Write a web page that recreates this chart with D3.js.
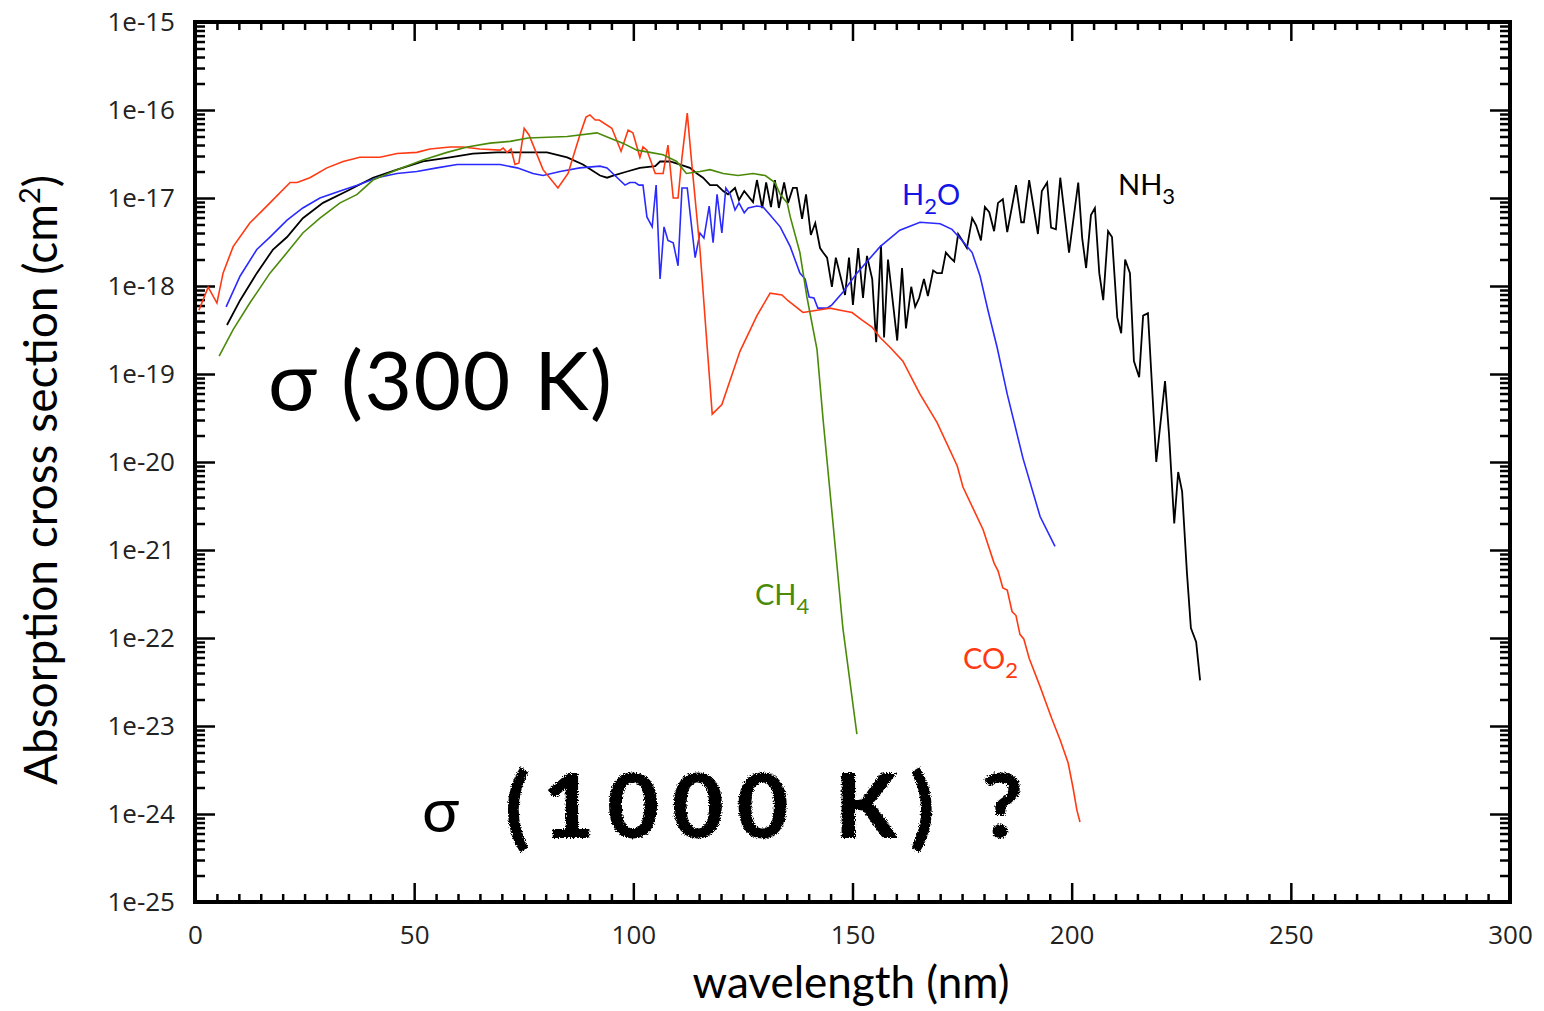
<!DOCTYPE html>
<html>
<head>
<meta charset="utf-8">
<script src="https://cdn.jsdelivr.net/npm/d3@7"></script>
<style>
  body { margin: 0; background: #fff; }
  svg text { font-family: Lato, "Open Sans", sans-serif; }
  .tick text { font-family: "Open Sans", sans-serif; font-size: 26px; fill: #222; }
</style>
</head>
<body>
<svg id="chart" width="1544" height="1011"></svg>
<script>
// wavelength (nm) and cross section (cm^2)
const nh3Wl = [7.3,10.3,14.1,17.8,21.0,24.6,29.2,34.7,40.6,46.1,52.0,58.2,63.4,68.9,75.0,80.3,84.9,88.5,92.4,94.0,95.4,98.6,101.5,105.0,106.1,108.4,110.7,112.9,114.5,115.9,117.5,119.1,120.5,121.6,123.2,124.1,125.3,127.3,128.2,129.4,130.3,131.4,132.3,133.2,134.4,135.3,136.4,137.3,138.5,139.4,140.5,141.5,142.6,143.3,144.2,145.3,146.2,148.3,149.2,150.1,151.3,152.4,153.3,154.5,155.4,156.5,157.2,158.1,160.2,161.3,162.2,163.4,164.3,165.2,166.3,167.2,168.4,169.3,170.4,171.3,172.3,173.2,174.1,175.2,176.1,177.3,178.2,179.3,180.2,181.2,182.3,183.2,184.3,185.3,187.3,188.5,189.1,190.3,192.3,193.2,194.4,195.3,196.4,197.4,199.4,201.5,202.4,203.3,204.4,205.3,206.3,207.2,208.3,209.2,210.4,211.3,212.2,213.3,214.2,215.4,216.3,217.4,219.3,221.3,222.2,223.4,224.3,225.2,226.3,227.2,228.4,229.3];
const nh3Sigma = [3.6e-19,6.9e-19,1.4e-18,2.6e-18,3.6e-18,5.9e-18,8.8e-18,1.2e-17,1.7e-17,2.1e-17,2.6e-17,2.9e-17,3.2e-17,3.3e-17,3.3e-17,3.3e-17,2.9e-17,2.4e-17,1.8e-17,1.7e-17,1.8e-17,2.0e-17,2.2e-17,2.3e-17,2.6e-17,2.6e-17,2.4e-17,2.2e-17,1.9e-17,1.7e-17,1.4e-17,1.4e-17,1.2e-17,1.1e-17,1.3e-17,9.5e-18,1.2e-17,9.0e-18,1.6e-17,7.7e-18,1.5e-17,7.9e-18,1.6e-17,7.7e-18,1.5e-17,8.8e-18,1.3e-17,1.3e-17,5.8e-18,1.1e-17,3.8e-18,5.2e-18,2.7e-18,2.4e-18,2.1e-18,9.8e-19,2.1e-18,7.9e-19,2.1e-18,6.1e-19,2.7e-18,7.3e-19,2.2e-18,1.2e-18,2.3e-19,2.9e-18,2.6e-19,2.0e-18,2.4e-19,1.6e-18,3.3e-19,9.8e-19,5.8e-19,7.3e-19,1.2e-18,7.7e-19,1.5e-18,1.4e-18,1.4e-18,2.4e-18,2.1e-18,1.9e-18,3.9e-18,3.2e-18,2.7e-18,5.9e-18,4.9e-18,3.3e-18,7.9e-18,6.9e-18,4.2e-18,8.8e-18,9.7e-18,4.1e-18,1.4e-17,5.3e-18,5.3e-18,1.6e-17,3.9e-18,1.2e-17,1.5e-17,4.6e-18,4.4e-18,1.7e-17,2.4e-18,1.5e-17,3.5e-18,1.6e-18,6.4e-18,7.7e-18,1.4e-18,6.9e-19,4.2e-18,3.6e-18,4.4e-19,2.9e-19,2.0e-18,1.4e-18,1.4e-19,9.2e-20,4.6e-19,4.9e-19,1.0e-20,8.3e-20,2.1e-20,2.0e-21,7.7e-21,4.6e-21,5.5e-22,1.3e-22,9.0e-23,3.3e-23];

const h2oWl = [7.1,10.3,14.1,17.1,21.0,24.6,28.5,33.1,37.0,41.5,46.1,50.6,55.2,59.8,65.0,69.6,73.5,77.1,79.4,83.3,87.8,92.4,94.0,95.8,98.1,99.2,100.4,101.3,102.2,103.1,104.3,105.2,106.1,107.0,107.9,109.1,110.2,111.1,112.3,114.1,115.2,116.1,117.3,118.2,119.1,120.2,121.1,122.1,123.2,124.1,125.3,126.2,128.2,129.6,131.2,133.5,135.8,138.0,139.2,140.1,141.2,142.1,144.2,145.3,147.8,151.0,156.3,160.8,165.4,170.0,172.7,175.2,177.3,179.1,180.9,183.0,185.3,188.9,192.8,196.2];
const h2oSigma = [5.8e-19,1.3e-18,2.6e-18,3.6e-18,5.6e-18,7.7e-18,1.0e-17,1.2e-17,1.4e-17,1.7e-17,1.9e-17,2.0e-17,2.2e-17,2.4e-17,2.4e-17,2.4e-17,2.2e-17,1.9e-17,1.8e-17,2.0e-17,2.2e-17,2.3e-17,2.2e-17,1.8e-17,1.4e-17,1.5e-17,1.5e-17,1.4e-17,1.4e-17,6.1e-18,4.7e-18,1.4e-17,1.2e-18,4.7e-18,3.3e-18,3.1e-18,1.7e-18,1.3e-17,1.3e-17,2.1e-18,4.0e-18,3.5e-18,8.1e-18,3.1e-18,1.1e-17,4.0e-18,1.3e-17,1.1e-17,7.3e-18,8.8e-18,6.8e-18,7.7e-18,8.1e-18,7.9e-18,6.4e-18,4.7e-18,2.8e-18,1.4e-18,1.2e-18,7.5e-19,7.3e-19,5.6e-19,5.6e-19,6.1e-19,8.5e-19,1.4e-18,2.8e-18,4.3e-18,5.3e-18,5.1e-18,4.4e-18,3.2e-18,2.4e-18,1.3e-18,5.3e-19,2.0e-19,5.9e-20,1.1e-20,2.4e-21,1.1e-21];

const co2Wl = [0.9,3.0,5.0,6.4,8.7,12.5,17.1,21.7,23.3,26.2,30.1,33.8,37.6,42.2,46.1,50.6,53.6,58.2,61.1,65.0,69.6,70.3,71.2,72.1,73.0,73.9,75.1,76.2,79.4,82.8,85.1,87.8,89.2,90.1,91.3,92.2,95.1,97.2,98.8,99.9,101.5,102.2,103.1,105.0,106.8,107.9,109.1,110.2,111.1,112.3,113.2,115.2,115.7,117.0,118.0,120.2,124.3,128.2,131.2,133.9,135.3,138.7,141.9,144.9,147.2,149.9,152.2,154.5,156.3,158.6,161.5,165.4,169.3,173.9,175.2,179.8,182.3,183.2,184.3,185.3,186.4,187.3,188.2,189.1,190.3,192.8,194.2,195.5,197.4,199.2,200.3,201.2,201.9];
const co2Sigma = [5.3e-19,9.7e-19,6.4e-19,1.4e-18,2.8e-18,5.2e-18,8.8e-18,1.5e-17,1.5e-17,1.7e-17,2.2e-17,2.6e-17,2.9e-17,2.9e-17,3.2e-17,3.3e-17,3.6e-17,3.8e-17,3.8e-17,3.6e-17,3.5e-17,3.7e-17,3.3e-17,3.6e-17,2.4e-17,2.5e-17,6.2e-17,5.2e-17,2.1e-17,1.3e-17,1.9e-17,5.2e-17,8.3e-17,8.8e-17,7.7e-17,7.7e-17,6.2e-17,3.4e-17,5.9e-17,5.5e-17,2.9e-17,3.8e-17,3.5e-17,1.9e-17,1.9e-17,4.0e-17,1.0e-17,1.0e-17,2.9e-17,9.2e-17,2.9e-17,2.6e-18,1.2e-18,1.6e-19,3.5e-20,4.5e-20,1.8e-19,4.6e-19,8.3e-19,7.9e-19,6.8e-19,5.0e-19,5.3e-19,5.6e-19,5.3e-19,5.0e-19,4.1e-19,3.4e-19,2.6e-19,2.0e-19,1.4e-19,5.9e-20,2.8e-20,9.0e-21,5.2e-21,1.7e-21,7.1e-22,5.8e-22,3.7e-22,3.5e-22,2.0e-22,1.8e-22,1.1e-22,9.7e-23,5.9e-23,2.8e-23,1.8e-23,1.2e-23,6.9e-24,3.8e-24,2.0e-24,1.1e-24,8.1e-25];

const ch4Wl = [5.5,8.7,12.5,17.1,21.0,24.6,28.5,33.1,37.0,40.6,46.1,52.0,57.5,62.1,67.3,71.9,76.0,84.9,91.7,94.6,97.6,100.8,103.8,106.8,109.9,112.1,115.2,117.5,120.5,123.9,127.3,130.1,132.3,133.5,135.1,135.8,138.0,139.6,141.9,143.3,145.6,147.8,151.0];
const ch4Sigma = [1.6e-19,3.2e-19,6.4e-19,1.4e-18,2.4e-18,4.0e-18,5.9e-18,8.8e-18,1.1e-17,1.6e-17,2.1e-17,2.7e-17,3.3e-17,3.8e-17,4.2e-17,4.4e-17,4.8e-17,5.0e-17,5.5e-17,4.8e-17,4.2e-17,3.5e-17,3.3e-17,3.1e-17,2.6e-17,1.9e-17,2.0e-17,2.1e-17,1.9e-17,1.8e-17,1.9e-17,1.8e-17,1.5e-17,1.1e-17,8.8e-18,6.1e-18,2.4e-18,7.5e-19,1.9e-19,3.0e-20,1.9e-21,1.3e-22,8.1e-24];

const xTickValues = [0, 50, 100, 150, 200, 250, 300];
const yExponents = [-25, -24, -23, -22, -21, -20, -19, -18, -17, -16, -15];

const margin = {left: 195, top: 22, right: 34, bottom: 109};
const W = 1544 - margin.left - margin.right;
const H = 1011 - margin.top - margin.bottom;

const svg = d3.select('#chart');

// rough chalk look for the hand written part
const defs = svg.append('defs');
const chalk = defs.append('filter').attr('id', 'chalk').attr('x', '-5%').attr('y', '-10%').attr('width', '110%').attr('height', '120%');
chalk.append('feTurbulence').attr('type', 'fractalNoise').attr('baseFrequency', 0.9).attr('numOctaves', 2).attr('seed', 3).attr('result', 'noise');
chalk.append('feDisplacementMap').attr('in', 'SourceGraphic').attr('in2', 'noise').attr('scale', 5)
  .attr('xChannelSelector', 'R').attr('yChannelSelector', 'G');

const g = svg.append('g').attr('transform', `translate(${margin.left},${margin.top})`);

const x = d3.scaleLinear().domain([0, 300]).range([0, W]);
const y = d3.scaleLog().domain([1e-25, 1e-15]).range([H, 0]);

const decades = yExponents.map(e => Math.pow(10, e));
let yMinor = [];
yExponents.slice(0, -1).forEach(e => {
  for (let k = 2; k <= 9; k++) yMinor.push(k * Math.pow(10, e));
});
const xMinor = d3.range(0, 301, 5).filter(v => v % 50 !== 0);

function styleAxis(sel) {
  sel.select('.domain').remove();
  sel.selectAll('.tick line').attr('stroke', '#000').attr('stroke-width', 2.5);
}

// left
g.append('g').call(d3.axisLeft(y).tickValues(yMinor).tickSize(-10).tickFormat('')).call(styleAxis);
g.append('g').call(d3.axisLeft(y).tickValues(decades).tickSize(-20).tickPadding(20)
  .tickFormat(d => '1e' + Math.round(Math.log10(d)))).call(styleAxis);
// right
g.append('g').attr('transform', `translate(${W},0)`)
  .call(d3.axisRight(y).tickValues(yMinor).tickSize(-10).tickFormat('')).call(styleAxis);
g.append('g').attr('transform', `translate(${W},0)`)
  .call(d3.axisRight(y).tickValues(decades).tickSize(-20).tickFormat('')).call(styleAxis);
// bottom
g.append('g').attr('transform', `translate(0,${H})`)
  .call(d3.axisBottom(x).tickValues(xMinor).tickSize(-8).tickFormat('')).call(styleAxis);
g.append('g').attr('transform', `translate(0,${H})`)
  .call(d3.axisBottom(x).tickValues(xTickValues).tickSize(-19).tickPadding(24).tickFormat(d3.format('d'))).call(styleAxis);
// top
g.append('g').call(d3.axisTop(x).tickValues(xMinor).tickSize(-8).tickFormat('')).call(styleAxis);
g.append('g').call(d3.axisTop(x).tickValues(xTickValues).tickSize(-19).tickFormat('')).call(styleAxis);

// frame
g.append('rect').attr('width', W).attr('height', H)
  .attr('fill', 'none').attr('stroke', '#000').attr('stroke-width', 4);

// curves
const series = [
  {wl: nh3Wl, sigma: nh3Sigma, color: '#000000', width: 1.8},
  {wl: h2oWl, sigma: h2oSigma, color: '#2a2aff', width: 1.6},
  {wl: co2Wl, sigma: co2Sigma, color: '#ff3a12', width: 1.6},
  {wl: ch4Wl, sigma: ch4Sigma, color: '#4b8a08', width: 1.6}
];
const line = d3.line().x(d => x(d[0])).y(d => y(d[1]));
series.forEach(s => {
  g.append('path')
    .datum(d3.zip(s.wl, s.sigma))
    .attr('d', line)
    .attr('fill', 'none')
    .attr('stroke', s.color)
    .attr('stroke-width', s.width)
    .attr('stroke-linejoin', 'miter');
});

// molecule labels with subscripts
function molLabel(px, py, color, main, sub, tail) {
  const t = svg.append('text').attr('x', px).attr('y', py).attr('fill', color).attr('font-size', 29);
  t.append('tspan').text(main);
  t.append('tspan').attr('font-size', 22).attr('dy', 9).text(sub);
  if (tail) t.append('tspan').attr('dy', -9).text(tail);
}
molLabel(902, 205, '#1414e6', 'H', '2', 'O');
molLabel(1118, 195, '#000000', 'NH', '3');
molLabel(755, 605, '#4b8a08', 'CH', '4');
molLabel(963, 669, '#ff3a12', 'CO', '2');

// big annotations
svg.append('text').attr('x', 268).attr('y', 410).attr('font-size', 82).attr('fill', '#000')
  .attr('textLength', 344).attr('lengthAdjust', 'spacing')
  .text('σ (300 K)');
svg.append('text').attr('x', 422).attr('y', 832).attr('font-size', 62).attr('fill', '#000')
  .text('σ');
svg.append('text').attr('x', 505).attr('y', 838).attr('font-size', 90).attr('font-weight', 900)
  .attr('fill', '#000').attr('filter', 'url(#chalk)')
  .attr('textLength', 518).attr('lengthAdjust', 'spacing')
  .text('(1000 K) ?');

// axis titles
svg.append('text').attr('x', 851).attr('y', 998).attr('text-anchor', 'middle')
  .attr('font-size', 44).attr('fill', '#000').text('wavelength (nm)');
const yt = svg.append('text').attr('transform', 'translate(57,480) rotate(-90)')
  .attr('text-anchor', 'middle').attr('font-size', 46).attr('fill', '#000');
yt.append('tspan').text('Absorption cross section (cm');
yt.append('tspan').attr('font-size', 29).attr('dy', -17).text('2');
yt.append('tspan').attr('dy', 17).text(')');
</script>
</body>
</html>
